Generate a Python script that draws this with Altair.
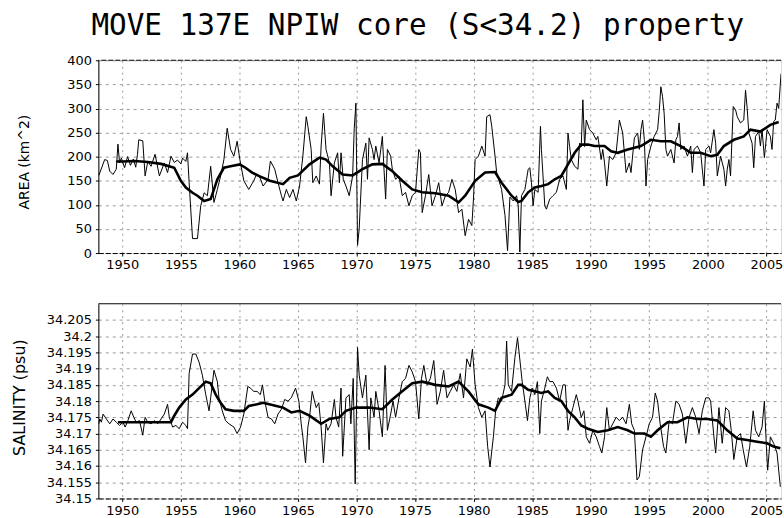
import altair as alt
import pandas as pd

# ---------------------------------------------------------------------------
# NPIW core area (km^2): monthly values and running mean
# ---------------------------------------------------------------------------
area_raw_year = [
    1948.0, 1948.5, 1948.73, 1948.93, 1949.21, 1949.49, 1949.63, 1949.77, 1949.92,
    1950.2, 1950.45, 1950.7, 1950.95, 1951.15, 1951.3, 1951.41, 1951.75, 1951.95,
    1952.18, 1952.46, 1952.8, 1953.17, 1953.59, 1953.87, 1954.16, 1954.44, 1954.72,
    1955.0, 1955.15, 1955.43, 1955.57, 1955.71, 1956.0, 1956.42, 1956.7, 1956.99,
    1957.27, 1957.55, 1957.83, 1958.12, 1958.4, 1958.68, 1958.96, 1959.25, 1959.53,
    1959.81, 1960.04, 1960.38, 1960.8, 1961.23, 1961.46, 1961.75, 1962.03, 1962.45,
    1962.65, 1963.02, 1963.3, 1963.59, 1963.73, 1964.01, 1964.29, 1964.58, 1964.86,
    1965.14, 1965.42, 1965.71, 1965.85, 1966.13, 1966.27, 1966.56, 1966.84, 1966.98,
    1967.18, 1967.4, 1967.69, 1967.83, 1968.11, 1968.39, 1968.54, 1968.68, 1968.87,
    1969.1, 1969.38, 1969.67, 1969.81, 1969.95, 1970.09, 1970.23, 1970.51, 1970.8,
    1970.94, 1971.08, 1971.36, 1971.5, 1971.65, 1971.93, 1972.21, 1972.35, 1972.49,
    1972.64, 1972.92, 1973.06, 1973.34, 1973.63, 1973.91, 1974.19, 1974.48, 1974.76,
    1975.04, 1975.32, 1975.46, 1975.61, 1975.89, 1976.17, 1976.45, 1976.74, 1977.02,
    1977.3, 1977.59, 1977.87, 1978.15, 1978.43, 1978.72, 1979.0, 1979.28, 1979.57,
    1979.85, 1979.99, 1980.13, 1980.41, 1980.7, 1980.98, 1981.12, 1981.4, 1981.55,
    1981.83, 1981.97, 1982.39, 1982.68, 1982.9, 1983.1, 1983.39, 1983.67, 1983.81,
    1983.95, 1984.09, 1984.38, 1984.52, 1984.66, 1984.8, 1984.94, 1985.08, 1985.23,
    1985.51, 1985.71, 1985.79, 1986.08, 1986.22, 1986.5, 1986.78, 1987.07, 1987.35,
    1987.63, 1987.92, 1988.06, 1988.2, 1988.34, 1988.63, 1988.91, 1989.05, 1989.19,
    1989.33, 1989.48, 1989.62, 1989.9, 1990.18, 1990.47, 1990.61, 1990.89, 1991.03,
    1991.18, 1991.37, 1991.6, 1991.88, 1992.17, 1992.45, 1992.73, 1993.02, 1993.3,
    1993.44, 1993.73, 1994.01, 1994.15, 1994.29, 1994.43, 1994.58, 1994.72, 1994.86,
    1995.14, 1995.42, 1995.71, 1995.85, 1995.99, 1996.13, 1996.27, 1996.42, 1996.56,
    1996.84, 1997.12, 1997.27, 1997.41, 1997.55, 1997.69, 1997.97, 1998.26, 1998.54,
    1998.68, 1998.82, 1999.11, 1999.39, 1999.67, 1999.82, 2000.1, 2000.24, 2000.52,
    2000.67, 2000.81, 2001.09, 2001.37, 2001.52, 2001.66, 2001.8, 2001.94, 2002.17,
    2002.37, 2002.51, 2002.79, 2003.07, 2003.22, 2003.36, 2003.5, 2003.78, 2003.92,
    2004.07, 2004.35, 2004.49, 2004.63, 2004.83, 2005.06, 2005.34, 2005.48, 2005.62,
    2005.76, 2005.91, 2006.05, 2006.25,
]
area_raw_val = [
    161, 194, 192, 170, 163, 174, 226, 187, 197,
    177, 200, 182, 195, 178, 205, 235, 233, 160,
    190, 180, 205, 160, 187, 167, 201, 188, 193,
    185, 197, 190, 208, 146, 30, 30, 98, 125,
    119, 180, 105, 132, 160, 194, 259, 215, 201,
    232, 194, 150, 132, 150, 163, 157, 139, 153,
    191, 174, 146, 119, 108, 132, 115, 132, 108,
    139, 201, 283, 263, 215, 146, 160, 143, 222,
    290, 215, 187, 119, 187, 208, 146, 208, 153,
    139, 119, 160, 259, 311, 16, 50, 194, 228,
    153, 239, 215, 194, 222, 187, 242, 174, 112,
    215, 201, 174, 153, 160, 119, 126, 98, 119,
    126, 215, 208, 84, 119, 163, 98, 119, 146,
    98, 119, 126, 153, 132, 84, 91, 36, 70,
    57, 112, 194, 201, 222, 201, 283, 287, 263,
    201, 167, 132, 78, 5, 116, 108, 119, 98,
    2, 119, 132, 153, 174, 177, 146, 98, 132,
    126, 263, 215, 98, 91, 112, 119, 126, 153,
    160, 132, 249, 221, 194, 180, 174, 228, 221,
    318, 221, 276, 256, 249, 235, 242, 194, 215,
    187, 139, 201, 194, 208, 276, 249, 167, 187,
    167, 239, 249, 215, 256, 276, 235, 139, 194,
    222, 242, 256, 294, 345, 325, 290, 215, 201,
    215, 187, 235, 242, 270, 215, 222, 201, 222,
    167, 215, 222, 208, 139, 215, 222, 208, 256,
    228, 160, 201, 174, 139, 174, 194, 160, 304,
    297, 283, 270, 276, 338, 300, 249, 228, 177,
    242, 252, 222, 256, 198, 256, 242, 215, 273,
    276, 311, 300, 372,
]
area_smooth_year = [
    1949.49, 1950.0, 1951.05, 1952.18, 1953.31, 1954.44, 1955.0, 1955.43, 1956.0,
    1956.42, 1956.99, 1957.55, 1958.12, 1958.68, 1959.25, 1960.04, 1960.52, 1961.09,
    1961.65, 1962.6, 1963.73, 1964.29, 1965.0, 1965.99, 1966.84, 1967.4, 1967.97,
    1968.82, 1969.67, 1970.51, 1971.36, 1972.21, 1973.06, 1973.91, 1974.76, 1975.61,
    1976.74, 1977.87, 1978.72, 1979.28, 1980.13, 1980.98, 1981.83, 1982.39, 1983.24,
    1983.81, 1984.09, 1984.66, 1985.23, 1985.79, 1986.36, 1986.93, 1987.49, 1988.06,
    1988.63, 1989.19, 1989.76, 1990.33, 1991.18, 1991.74, 1992.31, 1993.16, 1994.29,
    1995.14, 1995.99, 1996.84, 1997.69, 1998.54, 1999.39, 2000.24, 2000.81, 2001.37,
    2002.22, 2003.07, 2003.64, 2004.49, 2005.34, 2006.05,
]
area_smooth_val = [
    190, 190, 191, 189, 185, 177, 150, 136, 125,
    119, 108, 112, 153, 177, 180, 184, 177, 167,
    160, 150, 143, 156, 161, 184, 198, 194, 180,
    163, 161, 174, 184, 185, 170, 150, 132, 126,
    124, 119, 105, 119, 150, 167, 168, 146, 119,
    106, 108, 126, 136, 139, 143, 153, 160, 184,
    208, 225, 225, 222, 222, 211, 208, 215, 222,
    235, 232, 232, 222, 208, 208, 201, 204, 222,
    235, 242, 256, 252, 266, 272,
]

# ---------------------------------------------------------------------------
# NPIW core salinity (psu): monthly values and running mean
# ---------------------------------------------------------------------------
sal_raw_year = [
    1948.0, 1948.08, 1948.22, 1948.36, 1948.64, 1948.93, 1949.21, 1949.49, 1949.77,
    1950.06, 1950.25, 1950.48, 1950.76, 1950.99, 1951.19, 1951.47, 1951.75, 1951.95,
    1952.18, 1952.46, 1952.74, 1953.03, 1953.31, 1953.59, 1953.87, 1954.02, 1954.3,
    1954.58, 1954.86, 1955.15, 1955.43, 1955.57, 1955.71, 1956.0, 1956.28, 1956.56,
    1956.84, 1957.13, 1957.41, 1957.55, 1957.83, 1958.12, 1958.26, 1958.54, 1958.82,
    1959.11, 1959.53, 1959.81, 1960.1, 1960.38, 1960.72, 1960.94, 1961.23, 1961.51,
    1961.79, 1961.97, 1962.17, 1962.45, 1962.74, 1963.02, 1963.3, 1963.59, 1963.87,
    1964.15, 1964.43, 1964.8, 1965.08, 1965.28, 1965.42, 1965.65, 1965.85, 1965.99,
    1966.22, 1966.41, 1966.56, 1966.78, 1966.98, 1967.18, 1967.4, 1967.55, 1967.83,
    1968.11, 1968.25, 1968.48, 1968.68, 1968.82, 1969.1, 1969.38, 1969.52, 1969.72,
    1969.89, 1970.09, 1970.23, 1970.51, 1970.8, 1971.08, 1971.22, 1971.5, 1971.65,
    1971.93, 1972.21, 1972.44, 1972.64, 1972.92, 1973.12, 1973.34, 1973.63, 1973.91,
    1974.19, 1974.48, 1974.76, 1975.04, 1975.32, 1975.55, 1975.75, 1976.03, 1976.31,
    1976.6, 1976.88, 1977.16, 1977.44, 1977.73, 1978.01, 1978.29, 1978.57, 1978.86,
    1979.14, 1979.42, 1979.71, 1979.9, 1980.13, 1980.41, 1980.7, 1980.98, 1981.2,
    1981.4, 1981.69, 1981.88, 1982.11, 1982.39, 1982.68, 1982.82, 1982.96, 1983.24,
    1983.53, 1983.75, 1984.15, 1984.38, 1984.6, 1984.8, 1985.0, 1985.23, 1985.45,
    1985.65, 1985.79, 1986.08, 1986.3, 1986.5, 1986.78, 1987.07, 1987.35, 1987.63,
    1987.83, 1988.06, 1988.2, 1988.48, 1988.77, 1988.91, 1989.19, 1989.42, 1989.62,
    1989.9, 1990.18, 1990.47, 1990.75, 1990.95, 1991.18, 1991.37, 1991.6, 1991.88,
    1992.17, 1992.45, 1992.73, 1993.02, 1993.3, 1993.5, 1993.73, 1993.95, 1994.15,
    1994.43, 1994.72, 1995.0, 1995.28, 1995.51, 1995.71, 1995.93, 1996.22, 1996.42,
    1996.7, 1996.98, 1997.27, 1997.55, 1997.83, 1998.12, 1998.4, 1998.68, 1998.97,
    1999.25, 1999.53, 1999.82, 2000.1, 2000.24, 2000.52, 2000.67, 2000.95, 2001.23,
    2001.52, 2001.8, 2002.0, 2002.22, 2002.51, 2002.79, 2003.02, 2003.3, 2003.58,
    2003.87, 2004.07, 2004.35, 2004.63, 2004.83, 2005.0, 2005.11, 2005.34, 2005.62,
    2005.91, 2006.19,
]
sal_raw_val = [
    34.173, 34.1745, 34.1735, 34.176, 34.1745, 34.173, 34.1745, 34.1735, 34.1725,
    34.1735, 34.172, 34.174, 34.177, 34.175, 34.1735, 34.174, 34.1695, 34.175,
    34.1735, 34.173, 34.174, 34.173, 34.1745, 34.176, 34.179, 34.175, 34.172,
    34.1725, 34.1715, 34.1735, 34.1725, 34.1715, 34.1885, 34.1945, 34.1945, 34.192,
    34.188, 34.182, 34.177, 34.181, 34.1895, 34.186, 34.181, 34.177, 34.174,
    34.173, 34.172, 34.170, 34.172, 34.176, 34.1845, 34.184, 34.183, 34.183,
    34.182, 34.185, 34.180, 34.175, 34.1745, 34.173, 34.176, 34.1775, 34.1805,
    34.180, 34.181, 34.184, 34.180, 34.173, 34.169, 34.161, 34.172, 34.175,
    34.183, 34.180, 34.178, 34.1795, 34.172, 34.161, 34.173, 34.171, 34.173,
    34.1805, 34.175, 34.172, 34.184, 34.163, 34.181, 34.182, 34.173, 34.187,
    34.1545, 34.1965, 34.188, 34.181, 34.188, 34.165, 34.181, 34.175, 34.183,
    34.177, 34.169, 34.191, 34.171, 34.176, 34.180, 34.175, 34.181, 34.186,
    34.187, 34.191, 34.189, 34.186, 34.1745, 34.187, 34.191, 34.185, 34.187,
    34.1925, 34.179, 34.183, 34.1895, 34.181, 34.183, 34.185, 34.183, 34.1885,
    34.181, 34.193, 34.1905, 34.196, 34.185, 34.178, 34.175, 34.177, 34.166,
    34.1597, 34.169, 34.177, 34.181, 34.180, 34.185, 34.1985, 34.185, 34.183,
    34.1935, 34.1995, 34.186, 34.180, 34.174, 34.181, 34.184, 34.182, 34.186,
    34.170, 34.180, 34.184, 34.1875, 34.186, 34.186, 34.184, 34.180, 34.185,
    34.185, 34.171, 34.174, 34.178, 34.182, 34.180, 34.175, 34.177, 34.169,
    34.167, 34.171, 34.169, 34.166, 34.164, 34.169, 34.178, 34.171, 34.173,
    34.175, 34.174, 34.175, 34.173, 34.179, 34.173, 34.171, 34.1557, 34.1567,
    34.165, 34.169, 34.173, 34.175, 34.1825, 34.180, 34.173, 34.166, 34.164,
    34.174, 34.173, 34.180, 34.179, 34.176, 34.167, 34.175, 34.178, 34.175,
    34.170, 34.177, 34.181, 34.181, 34.180, 34.169, 34.164, 34.178, 34.167,
    34.178, 34.177, 34.171, 34.162, 34.169, 34.170, 34.165, 34.1597, 34.166,
    34.177, 34.171, 34.169, 34.172, 34.180, 34.166, 34.1587, 34.169, 34.167,
    34.164, 34.1536,
]
sal_smooth_year = [
    1949.63, 1951.05, 1952.74, 1954.16, 1954.44, 1954.86, 1955.43, 1956.0, 1956.56,
    1957.13, 1957.55, 1957.98, 1958.4, 1958.82, 1959.53, 1960.38, 1960.8, 1961.51,
    1962.03, 1963.16, 1963.73, 1964.43, 1965.14, 1965.99, 1966.98, 1967.69, 1968.54,
    1969.1, 1969.95, 1971.08, 1972.21, 1973.06, 1973.91, 1974.76, 1975.61, 1976.74,
    1977.87, 1978.72, 1979.56, 1980.41, 1981.26, 1981.83, 1982.39, 1983.24, 1983.81,
    1984.09, 1984.66, 1985.23, 1985.79, 1986.36, 1986.93, 1987.49, 1988.06, 1988.63,
    1989.19, 1989.76, 1990.61, 1991.46, 1992.31, 1993.16, 1993.73, 1994.58, 1995.14,
    1995.71, 1996.56, 1997.41, 1998.26, 1999.11, 1999.96, 2000.81, 2001.66, 2002.51,
    2003.36, 2004.21, 2005.06, 2005.62, 2006.19,
]
sal_smooth_val = [
    34.1735, 34.1735, 34.1735, 34.1735, 34.1755, 34.178, 34.1805, 34.182, 34.184,
    34.186, 34.1855, 34.182, 34.1795, 34.1775, 34.177, 34.177, 34.1785, 34.179,
    34.1795, 34.1785, 34.178, 34.1765, 34.177, 34.1755, 34.173, 34.1745, 34.175,
    34.177, 34.178, 34.178, 34.1775, 34.1805, 34.183, 34.1855, 34.186, 34.185,
    34.1845, 34.186, 34.183, 34.179, 34.178, 34.177, 34.181, 34.182, 34.185,
    34.185, 34.1835, 34.183, 34.1825, 34.183, 34.181, 34.180, 34.177, 34.175,
    34.1725, 34.1715, 34.1705, 34.171, 34.172, 34.171, 34.170, 34.170, 34.169,
    34.171, 34.1735, 34.1735, 34.175, 34.1745, 34.1745, 34.174, 34.171, 34.1685,
    34.168, 34.1675, 34.167, 34.166, 34.1655,
]

# Axis tick values
year_ticks = [1950, 1955, 1960, 1965, 1970, 1975, 1980, 1985, 1990, 1995, 2000, 2005]
area_ticks = [0, 50, 100, 150, 200, 250, 300, 350, 400]
sal_ticks = [34.15, 34.155, 34.16, 34.165, 34.17, 34.175, 34.18, 34.185,
             34.19, 34.195, 34.2, 34.205]

FONT = "DejaVu Sans"
TITLE_FONT = "DejaVu Sans Mono"
X_DOMAIN = [1947.96, 2006.25]
PLOT_W = 687


def x_enc(field):
    return alt.X(
        field,
        title=None,
        scale=alt.Scale(domain=X_DOMAIN, nice=False, zero=False),
        axis=alt.Axis(
            values=year_ticks, format="d", labelFont=FONT, labelFontSize=13,
            labelColor="black", labelPadding=3, tickSize=3, tickColor="black",
            domainColor="black", domainDash=[5, 2], domainWidth=1,
            grid=True, gridColor="#9a9a9a", gridDash=[2, 4], gridWidth=1,
            labelFlush=False, labelOverlap=False,
        ),
    )


def panel(raw_df, smooth_df, y_domain, ticks, fmt, title, title_x, title_y,
          title_size, height, top_dash):
    def y_enc(field):
        return alt.Y(
            field,
            title=title,
            scale=alt.Scale(domain=y_domain, nice=False, zero=False),
            axis=alt.Axis(
                values=ticks, format=fmt, title=title, titleFont=FONT,
                titleFontSize=title_size, titleFontWeight="normal",
                titleColor="black", titleX=title_x, titleY=title_y,
                titleAngle=-90, titleBaseline="middle", titleAlign="center",
                labelFont=FONT, labelFontSize=13, labelColor="black",
                labelPadding=4, tickSize=3, tickColor="black",
                domainColor="black", domainWidth=1,
                grid=True, gridColor="#9a9a9a", gridDash=[3, 4], gridWidth=1,
                labelFlush=False, labelOverlap=False,
            ),
        )

    raw = alt.Chart(raw_df).mark_line(color="black", strokeWidth=1, clip=True).encode(
        x=x_enc("year:Q"), y=y_enc("value:Q")
    )
    smooth = alt.Chart(smooth_df).mark_line(color="black", strokeWidth=2.6, clip=True).encode(
        x=x_enc("year:Q"), y=y_enc("value:Q")
    )
    # frame line along the top of the panel
    top_border = alt.Chart(pd.DataFrame({"value": [y_domain[1]]})).mark_rule(
        color="black" if top_dash else "#444444",
        strokeWidth=1.2,
        strokeDash=[5, 2] if top_dash else [1, 0],
    ).encode(y=y_enc("value:Q"))
    return alt.layer(raw, smooth, top_border).properties(width=PLOT_W, height=height)


area_raw = pd.DataFrame({"year": area_raw_year, "value": area_raw_val})
area_smooth = pd.DataFrame({"year": area_smooth_year, "value": area_smooth_val})
sal_raw = pd.DataFrame({"year": sal_raw_year, "value": sal_raw_val})
sal_smooth = pd.DataFrame({"year": sal_smooth_year, "value": sal_smooth_val})

top = panel(area_raw, area_smooth, [0, 400], area_ticks, "d", "AREA (km^2)",
            -74, 102, 14, 194, True)
bottom = panel(sal_raw, sal_smooth, [34.15, 34.21], sal_ticks, "~g", "SALINITY (psu)",
               -79.5, 94, 16, 196, False)

chart = alt.vconcat(top, bottom, spacing=29).properties(
    title=alt.TitleParams(
        "MOVE 137E NPIW core (S<34.2) property",
        font=TITLE_FONT, fontSize=29.5, fontWeight="normal", color="black",
        anchor="start", dx=81, offset=12,
    ),
    padding={"left": 10, "top": 10, "right": 0, "bottom": 0},
).configure_view(stroke=None).configure(background="white")

chart.save("out.html", embed_options={"renderer": "svg", "actions": False})
